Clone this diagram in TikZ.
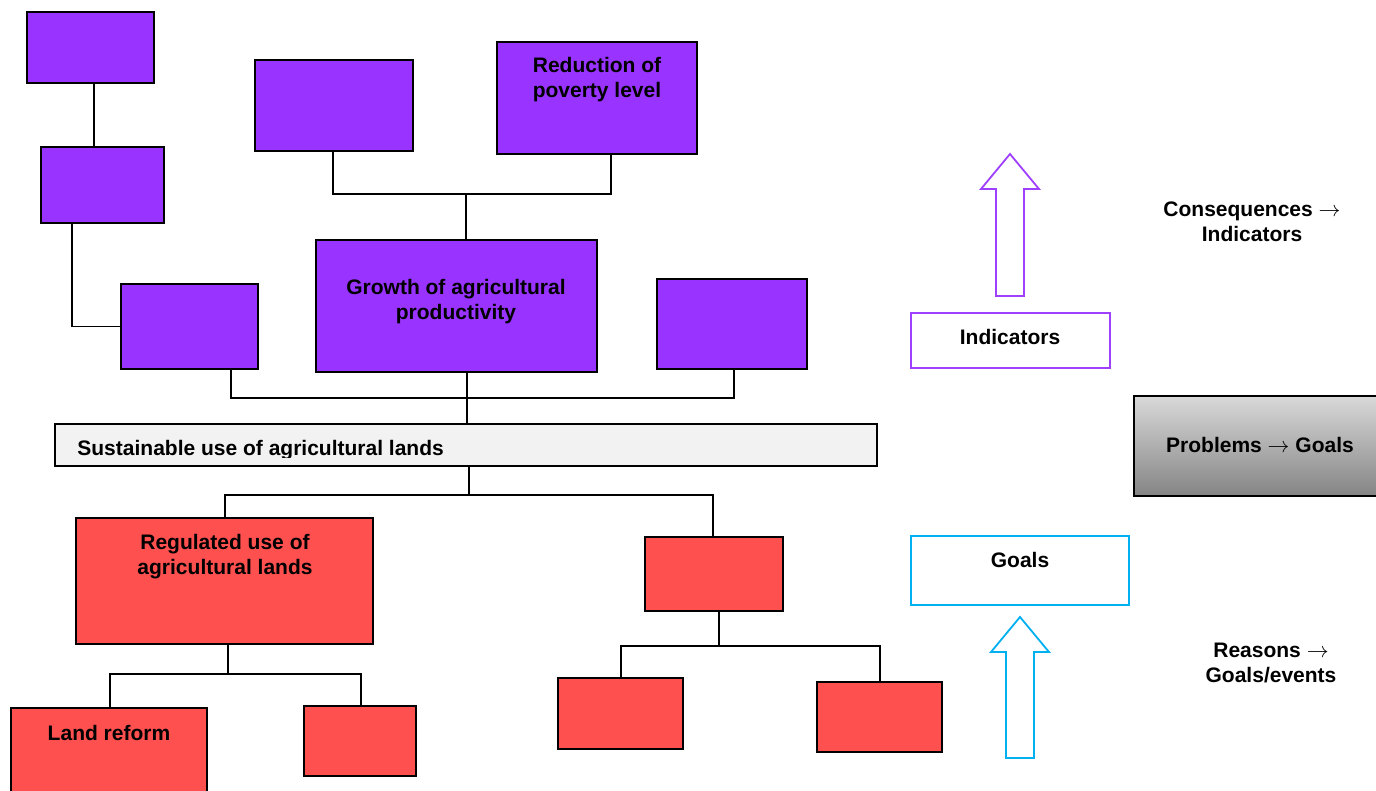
\documentclass[tikz,border=0pt]{standalone}
\usepackage{fontspec}
\setmainfont{Liberation Sans}
\usetikzlibrary{fit}
\definecolor{violetfill}{HTML}{9933FF}
\definecolor{violetline}{HTML}{A040FF}
\definecolor{redfill}{HTML}{FF5050}
\definecolor{bandfill}{HTML}{F2F2F2}
\definecolor{cyanline}{HTML}{00B0F0}
\newcommand{\tto}{\ensuremath{\rightarrow}}
\begin{document}
\begin{tikzpicture}[x=0.5pt,y=-0.5pt,
  box/.style={draw=black, line width=1pt, inner sep=0pt},
  pbox/.style={box, fill=violetfill},
  rbox/.style={box, fill=redfill},
  framebox/.style={line width=1pt, fill=white, inner sep=0pt},
  link/.style={draw=black, line width=0.8pt},
  bigarrow/.style={line width=0.9pt, fill=white, line join=miter},
  lbl/.style={font=\bfseries\fontsize{10.5}{12.5}\selectfont, inner sep=0pt, anchor=base, align=center}]
\useasboundingbox (0,0) rectangle (1376,791);

% upper (purple) boxes
\node[pbox, fit={(27,12)(154,83)}] (p1) {};
\node[pbox, fit={(41,147)(164,223)}] (p2) {};
\node[pbox, fit={(121,284)(258,369)}] (p3) {};
\node[pbox, fit={(255,60)(413,151)}] (p4) {};
\node[pbox, fit={(497,42)(697,154)}] (p5) {};
\node[pbox, fit={(316,240)(597,372)}] (g) {};
\node[pbox, fit={(657,279)(807,369)}] (p7) {};

% central band
\node[box, fill=bandfill, fit={(55,424)(877,466)}] (band) {};

% lower (red) boxes
\node[rbox, fit={(76,518)(373,644)}] (r1) {};
\node[rbox, fit={(645,537)(783,611)}] (r2) {};
\node[rbox, fit={(11,708)(207,805)}] (r3) {};
\node[rbox, fit={(304,706)(416,776)}] (r4) {};
\node[rbox, fit={(558,678)(683,749)}] (r5) {};
\node[rbox, fit={(817,682)(942,752)}] (r6) {};

% connectors of the upper tree
\draw[link] (p1.south -| 94,0) -- (p2.north -| 94,0);
\draw[link] (p2.south -| 72,0) |- (p3.west);
\coordinate (j1) at (466,194);
\draw[link] (p4.south -| 333,0) |- (j1) -| (p5.south -| 611,0);
\draw[link] (j1) -- (g.north -| j1);
\coordinate (j2) at (467,398);
\draw[link] (p3.south -| 231,0) |- (j2) -| (p7.south -| 734,0);
\draw[link] (g.south -| j2) -- (band.north -| j2);

% connectors of the lower tree
\coordinate (j3) at (469,495);
\draw[link] (band.south -| j3) -- (j3);
\draw[link] (r1.north -| 225,0) |- (j3) -| (r2.north -| 713,0);
\coordinate (j4) at (228,674);
\draw[link] (r1.south -| j4) -- (j4);
\draw[link] (r3.north -| 110,0) |- (j4) -| (r4.north -| 361,0);
\coordinate (j5) at (719,646);
\draw[link] (r2.south -| j5) -- (j5);
\draw[link] (r5.north -| 621,0) |- (j5) -| (r6.north -| 880,0);

% box texts (base anchor sits on the last line)
\node[lbl] (t5) at (597,98) {Reduction of\\poverty level};
\node[lbl] (tg) at (456,320) {Growth of agricultural\\productivity};
\begin{scope}
  \clip (55,424) rectangle (877,457.5);
  \node[lbl, anchor=base west] (tb) at (77,455) {Sustainable use of agricultural lands};
\end{scope}
\node[lbl] (tr1) at (225,574) {Regulated use of\\agricultural lands};
\node[lbl] (tr3) at (109,740) {Land reform};

% right-hand legend
\draw[bigarrow, draw=violetline] (1010,154) -- (1039,189) -- (1024,189) -- (1024,296)
  -- (996,296) -- (996,189) -- (981,189) -- cycle;
\node[framebox, draw=violetline, fit={(911,313)(1110,368)}] (ind) {};
\node[lbl] (tind) at (1010,344) {Indicators};

\node[box, top color=black!15, bottom color=black!48, fit={(1134,396)(1400,496)}] (pg) {};
\node[lbl] (tpg) at (1260,452) {Problems \tto{} Goals};

\node[framebox, draw=cyanline, fit={(911,536)(1129,605)}] (goals) {};
\node[lbl] (tgoals) at (1020,567) {Goals};
\draw[bigarrow, draw=cyanline] (1020,617) -- (1049,652) -- (1034,652) -- (1034,758)
  -- (1006,758) -- (1006,652) -- (991,652) -- cycle;

\node[lbl] (tcons) at (1252,242) {Consequences \tto\\Indicators};
\node[lbl] (treas) at (1271,682) {Reasons \tto\\Goals/events};
\end{tikzpicture}
\end{document}
